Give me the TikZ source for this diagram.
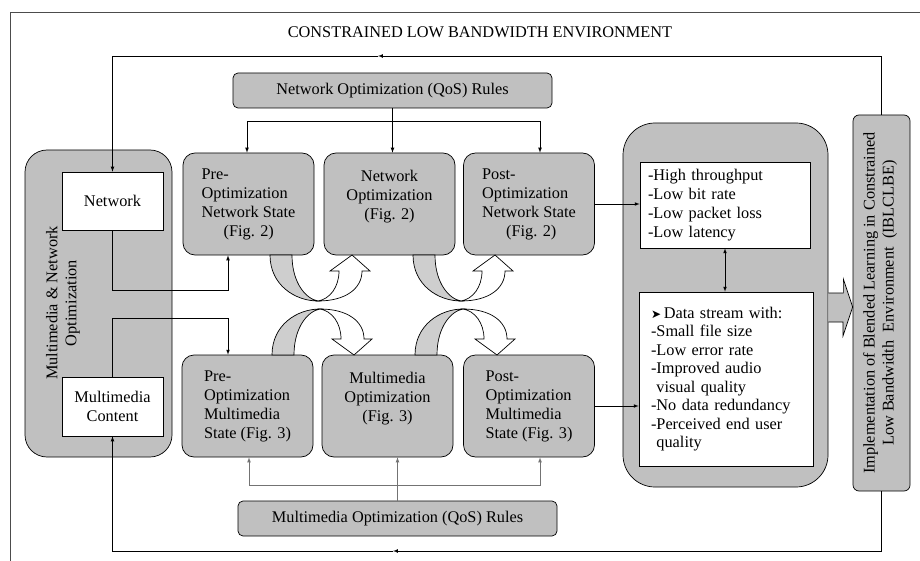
\documentclass[tikz,border=0pt]{standalone}
\usepackage{fontspec}
\setmainfont{Liberation Serif}
\newfontfamily\symfont{DejaVu Sans}
\definecolor{boxgray}{RGB}{192,192,192}
\definecolor{bendgray}{RGB}{206,206,206}
\newcommand{\bentarrow}{%
  \draw[fill=bendgray] (0,0) .. controls (0,30) and (25,46) .. (48,46) .. controls (36,44) and (22,28) .. (22,0) -- cycle;
  \draw[fill=white] (48,46) .. controls (75,46) and (92,34) .. (92,16) -- (100,16) -- (82,0) -- (60,16) -- (69,16) .. controls (69,32) and (60,44) .. (48,46) -- cycle;
}

\begin{document}
\begin{tikzpicture}[x=1pt, y=-1pt, line width=0.7pt]
        \tikzstyle{every node}=[font=\fontsize{16.3}{19}\selectfont]
        \tikzstyle{grp}=[draw, fill=boxgray]
        \tikzstyle{stage}=[grp, rounded corners=12, minimum width=131, minimum height=102, align=left]
        \tikzstyle{rules}=[grp, rounded corners=5, minimum width=319, minimum height=35]
        \tikzstyle{whitebox}=[draw, fill=white, minimum width=101, align=center]
        \tikzstyle{listbox}=[draw, fill=white, align=left, inner xsep=8]
        \tikzstyle{soft}=[draw=black!55]
        \useasboundingbox (0,0) rectangle (920,561);
        \draw[black!70] (10,561) -- (10,12) -- (920,12);
        \node (title) at (480,32) {CONSTRAINED LOW BANDWIDTH ENVIRONMENT};
        % outer groups
        \node[grp, rounded corners=22, minimum width=147, minimum height=307] (lgrp) at (98.5,303.5) {};
        \node[rotate=90, align=center] (lgrptxt) at (63,303) {Multimedia \& Network\\Optimization};
        \node[whitebox, minimum height=58] (net) at (112.5,201) {Network};
        \node[whitebox, minimum height=59] (mmc) at (112.5,406.5) {Multimedia\\Content};
        \node[grp, rounded corners=32, minimum width=205, minimum height=364] (rgrp) at (725.5,305) {};
        \node[listbox, text width=154, minimum height=86] (qnet) at (725,205) {-High throughput\\-Low bit rate\\-Low packet loss\\-Low latency};
        \node[listbox, text width=150, inner xsep=12, minimum height=174, font=\fontsize{16.3}{18.5}\selectfont] (qmm) at (726,379) {{\symfont\fontsize{12}{12}\selectfont ➤}\,Data stream with:\\-Small file size\\-Low error rate\\-Improved audio\\\ visual quality\\-No data redundancy\\-Perceived end user\\\ quality};
        \node[grp, rounded corners=6, minimum width=57, minimum height=376] (ibl) at (881.5,303) {};
        \node[rotate=90, align=center] (ibltxt) at (880,303) {Implementation of Blended Learning in Constrained\\Low Bandwidth~~Environment~~(IBLCLBE)};
        % rules
        \node[rules] (nrules) at (392.5,90.5) {Network Optimization (QoS) Rules};
        \node[rules] (mrules) at (397.5,518.5) {Multimedia Optimization (QoS) Rules};
        % stages
        \node[stage] (pns) at (248.5,204) {Pre-\\Optimization\\Network State\\\hspace*{22pt}(Fig. 2)};
        \node[stage, align=center] (nopt) at (389.5,204) {Network\\Optimization\\(Fig. 2)\\[0pt]~};
        \node[stage] (pons) at (529,204) {Post-\\Optimization\\Network State\\\hspace*{24pt}(Fig. 2)};
        \node[stage] (pms) at (247.5,406) {Pre-\\Optimization\\Multimedia\\State (Fig. 3)};
        \node[stage, align=center] (mopt) at (387.5,406) {Multimedia\\Optimization\\(Fig. 3)\\[0pt]~};
        \node[stage] (poms) at (529,406) {Post-\\Optimization\\Multimedia\\State (Fig. 3)};
        % feedback loop
        \coordinate (topmid) at (378,56);
        \coordinate (botmid) at (393,551);
        \draw[-latex] (ibl.north) |- (topmid);
        \draw[-latex] (topmid) -| (net.north);
        \draw[-latex] (ibl.south) |- (botmid);
        \draw[-latex] (botmid) -| (mmc.south);
        % connectors
        \draw[-latex] (net.south) -- ++(0,60) -| ([xshift=-20.5pt]pns.south);
        \draw[-latex] (mmc.north) -- ++(0,-58) -| ([xshift=-19.5pt]pms.north);
        \draw[-latex] (nrules.south) -- (nrules.south |- nopt.north);
        \draw[latex-latex] ([xshift=-1.5pt]pns.north) -- ++(0,-31) -| ([xshift=11pt]pons.north);
        \draw[soft, -latex] (mrules.north) -- (mrules.north |- mopt.south);
        \draw[soft, latex-latex] ([xshift=1.5pt]pms.south) -- ++(0,28) -| ([xshift=11pt]poms.south);
        \draw[-latex] (pons.east) -- (pons.east -| qnet.west);
        \draw[-latex] (poms.east) -- (poms.east -| qmm.west);
        \draw[latex-latex] (qnet.south) -- (qnet.south |- qmm.north);
        % block arrow to IBLCLBE
        \draw[fill=boxgray] (rgrp.east) ++(0,-12) -- ++(15,0) -- ++(0,-14) -- (ibl.west |- 0,307) -- (843,336) -- (843,322) -- (rgrp.east |- 0,322);
        % bent arrows
        \begin{scope}[shift={(270,255)}] \bentarrow \end{scope}
        \begin{scope}[shift={(413,255)}] \bentarrow \end{scope}
        \begin{scope}[shift={(272,355)}, yscale=-1] \bentarrow \end{scope}
        \begin{scope}[shift={(415,355)}, yscale=-1] \bentarrow \end{scope}
    \end{tikzpicture}
\end{document}
